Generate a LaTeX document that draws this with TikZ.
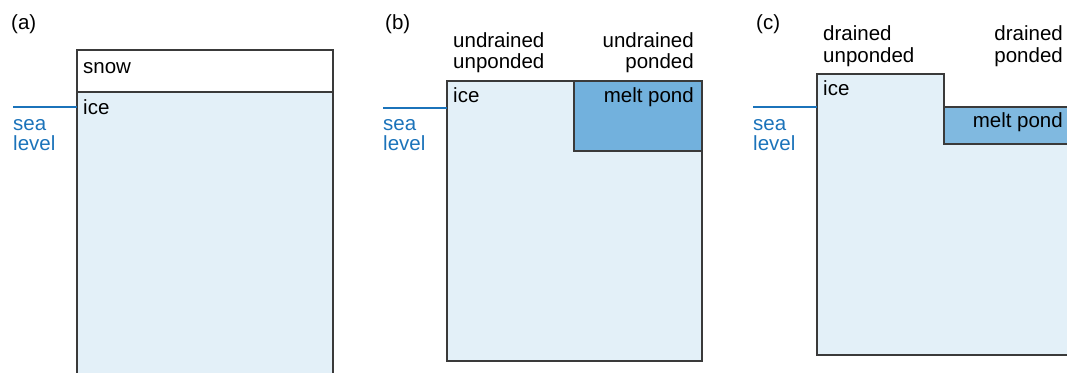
\documentclass[tikz,border=0pt]{standalone}
\usepackage{fontspec}
\setmainfont{Liberation Sans}
\definecolor{icefill}{HTML}{E3F0F8}
\definecolor{pondb}{HTML}{72B1DD}
\definecolor{pondc}{HTML}{80B9E0}
\definecolor{sealine}{HTML}{1B73BA}
\definecolor{edge}{HTML}{3A3A3A}
\begin{document}
\begin{tikzpicture}[x=1pt,y=-1pt,
  lbl/.style={inner sep=0pt,anchor=base west,font=\fontsize{20.5}{22}\selectfont,text=black},
  lblr/.style={lbl,anchor=base east},
  sealbl/.style={lbl,text=sealine},
  seaLine/.style={draw=sealine,line width=1.2pt},
  box/.style={draw=edge,line width=1.4pt}]
\useasboundingbox (0,0) rectangle (1067,372);
\clip (0,0) rectangle (1067,372);
% ---------- (a)
\node[lbl] (la) at (11,29) {(a)};
\filldraw[box,fill=white] (77,50) rectangle (333,92);
\filldraw[box,fill=icefill] (77,92) rectangle (333,380);
\node[lbl] (snowa) at (83,73) {snow};
\node[lbl] (icea) at (83,114) {ice};
\coordinate (sla) at (13,107);
\coordinate (slae) at (77,107);
\draw[seaLine] (sla) -- (slae);
\node[sealbl] (seaa) at (13,130) {sea};
\node[sealbl] (levela) at (13,150) {level};
% ---------- (b)
\node[lbl] (lb) at (385,29) {(b)};
\filldraw[box,fill=icefill] (447,81) rectangle (702,361);
\filldraw[box,fill=pondb] (574,81) rectangle (702,151);
\node[lbl] (undr1) at (453,47) {undrained};
\node[lbl] (unp1) at (453,68) {unponded};
\node[lblr] (undr2) at (694,47) {undrained};
\node[lblr] (pon2) at (694,68) {ponded};
\node[lbl] (iceb) at (453,102) {ice};
\node[lblr] (pondb) at (694,102) {melt pond};
\coordinate (slb) at (383,108);
\coordinate (slbe) at (447,108);
\draw[seaLine] (slb) -- (slbe);
\node[sealbl] (seab) at (383,130) {sea};
\node[sealbl] (levelb) at (383,150) {level};
% ---------- (c)
\node[lbl] (lc) at (756,29) {(c)};
\filldraw[box,fill=icefill] (817,355) -- (817,74) -- (944,74) -- (944,107) -- (1075,107) -- (1075,355) -- cycle;
\filldraw[box,fill=pondc] (944,107) rectangle (1075,144);
\node[lbl] (dr1) at (823,40) {drained};
\node[lbl] (unp3) at (823,62) {unponded};
\node[lblr] (dr2) at (1063,40) {drained};
\node[lblr] (pon3) at (1063,62) {ponded};
\node[lbl] (icec) at (823,95) {ice};
\node[lblr] (pondc) at (1063,127) {melt pond};
\coordinate (slc) at (753,107);
\coordinate (slce) at (817,107);
\draw[seaLine] (slc) -- (slce);
\node[sealbl] (seac) at (753,130) {sea};
\node[sealbl] (levelc) at (753,150) {level};
\end{tikzpicture}
\end{document}
